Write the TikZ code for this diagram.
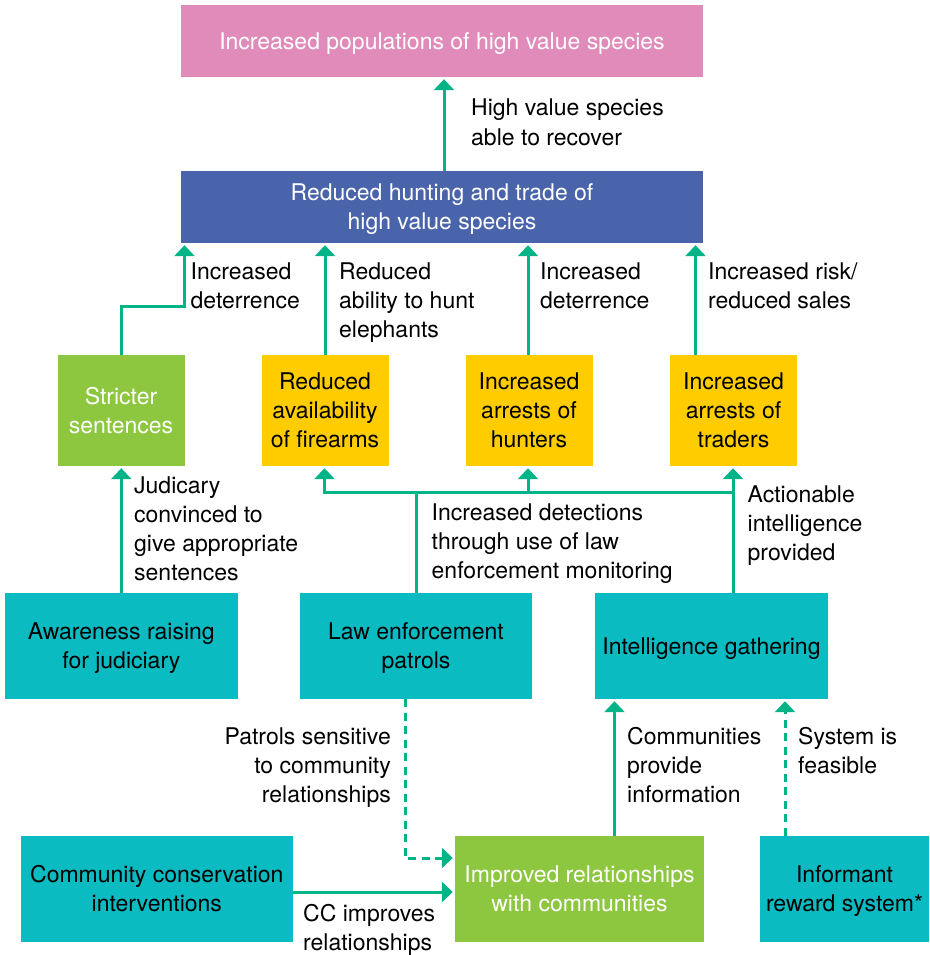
\documentclass[tikz,border=0pt]{standalone}
\usepackage{fontspec}
\setmainfont{TeX Gyre Heros}
\usetikzlibrary{arrows.meta}
\definecolor{cpink}{RGB}{224,139,186}
\definecolor{cblue}{RGB}{73,100,171}
\definecolor{cgreen}{RGB}{141,198,63}
\definecolor{cyellow}{RGB}{255,204,0}
\definecolor{cteal}{RGB}{10,187,194}
\definecolor{clink}{RGB}{0,180,135}
\begin{document}
\begin{tikzpicture}[x=1pt,y=-1pt,
  txt/.style={font=\fontsize{23pt}{29pt}\selectfont},
  box/.style={txt, rectangle, inner sep=0pt, align=center, text depth=0pt},
  outcome/.style={box, fill=cyellow, text=black, minimum width=127pt, minimum height=111pt},
  action/.style={box, fill=cteal, text=black, minimum height=106pt},
  lab/.style={txt, inner sep=0pt, align=left, anchor=base west},
  line/.style={draw=clink, line width=3pt},
  arr/.style={line, -{Triangle[width=20pt,length=11pt]}, shorten >=2pt},
  dasharr/.style={arr, dash pattern=on 8pt off 5.5pt}]
\useasboundingbox (0,0) rectangle (929,955);

% goal and main outcome
\node[box, fill=cpink, text=white, minimum width=522pt, minimum height=72pt] (pop) at (442,41)
  {Increased populations of high value species};
\node[box, fill=cblue, text=white, minimum width=522pt, minimum height=72pt] (trade) at (442,207)
  {Reduced hunting and trade of\\high value species};

% intermediate outcomes
\node[box, fill=cgreen, text=white, minimum width=127pt, minimum height=111pt] (strict) at (121,410.5)
  {Stricter\\sentences};
\node[outcome] (fire) at (325,410.5) {Reduced\\availability\\of firearms};
\node[outcome] (hunt) at (529,410.5) {Increased\\arrests of\\hunters};
\node[outcome] (tradr) at (733.5,410.5) {Increased\\arrests of\\traders};

% interventions
\node[action, minimum width=233pt] (aware) at (121.3,646) {Awareness raising\\for judiciary};
\node[action, minimum width=232pt] (patrol) at (416,646) {Law enforcement\\patrols};
\node[action, minimum width=233pt] (intel) at (711.5,646) {Intelligence gathering};
\node[action, minimum width=272pt] (comm) at (156.8,888.8) {Community conservation\\interventions};
\node[box, fill=cgreen, text=white, minimum width=249pt, minimum height=106pt] (rel) at (579.5,888.8)
  {Improved relationships\\with communities};
\node[action, minimum width=169pt] (inform) at (844.5,888.8) {Informant\\reward system*};

% connector positions
\coordinate (xpop) at (444,0);
\coordinate (kstr) at (184.5,306.5);
\coordinate (xtr) at (695.5,0);
\coordinate (J) at (416,492);
\coordinate (xf) at (324.5,0);
\coordinate (xh) at (528,0);
\coordinate (xt) at (733,0);
\coordinate (xd) at (405,0);
\coordinate (yd) at (0,858);
\coordinate (yc) at (0,892);
\coordinate (xi) at (614.5,0);
\coordinate (xr) at (785,0);

% connectors
\draw[arr] (trade.north -| xpop) -- (pop.south -| xpop);
\draw[arr] (strict.north) |- (kstr) -- (kstr |- trade.south);
\draw[arr] (fire.north) -- (fire.north |- trade.south);
\draw[arr] (hunt.north -| xh) -- (trade.south -| xh);
\draw[arr] (tradr.north -| xtr) -- (trade.south -| xtr);
\draw[arr] (aware.north) -- (aware.north |- strict.south);
\draw[line] (patrol.north) -- (J);
\draw[arr] (J) -| (fire.south -| xf);
\draw[line] (J) -- (J -| xt);
\draw[arr] (J -| xh) -- (hunt.south -| xh);
\draw[arr] (intel.north -| xt) -- (tradr.south -| xt);
\draw[dasharr] (patrol.south -| xd) |- (rel.west |- yd);
\draw[arr] (comm.east |- yc) -- (rel.west |- yc);
\draw[arr] (rel.north -| xi) -- (intel.south -| xi);
\draw[dasharr] (inform.north -| xr) -- (intel.south -| xr);

% connector labels (placed at the baseline of their last line)
\node[lab] (l1) at (471,145) {High value species\\able to recover};
\node[lab] (l2) at (190.5,308.5) {Increased\\deterrence};
\node[lab] (l3) at (339,337) {Reduced\\ability to hunt\\elephants};
\node[lab] (l4) at (540,308.5) {Increased\\deterrence};
\node[lab] (l5) at (708,308.5) {Increased risk/\\reduced sales};
\node[lab] (l6) at (134,580.5) {Judicary\\convinced to\\give appropriate\\sentences};
\node[lab] (l7) at (431.5,578) {Increased detections\\through use of law\\enforcement monitoring};
\node[lab] (l8) at (747.5,560.5) {Actionable\\intelligence\\provided};
\node[lab, anchor=base east, align=right] (l9) at (391,802) {Patrols sensitive\\to community\\relationships};
\node[lab] (l10) at (303,950) {CC improves\\relationships};
\node[lab] (l11) at (627,802) {Communities\\provide\\information};
\node[lab] (l12) at (798,773) {System is\\feasible};
\end{tikzpicture}
\end{document}
